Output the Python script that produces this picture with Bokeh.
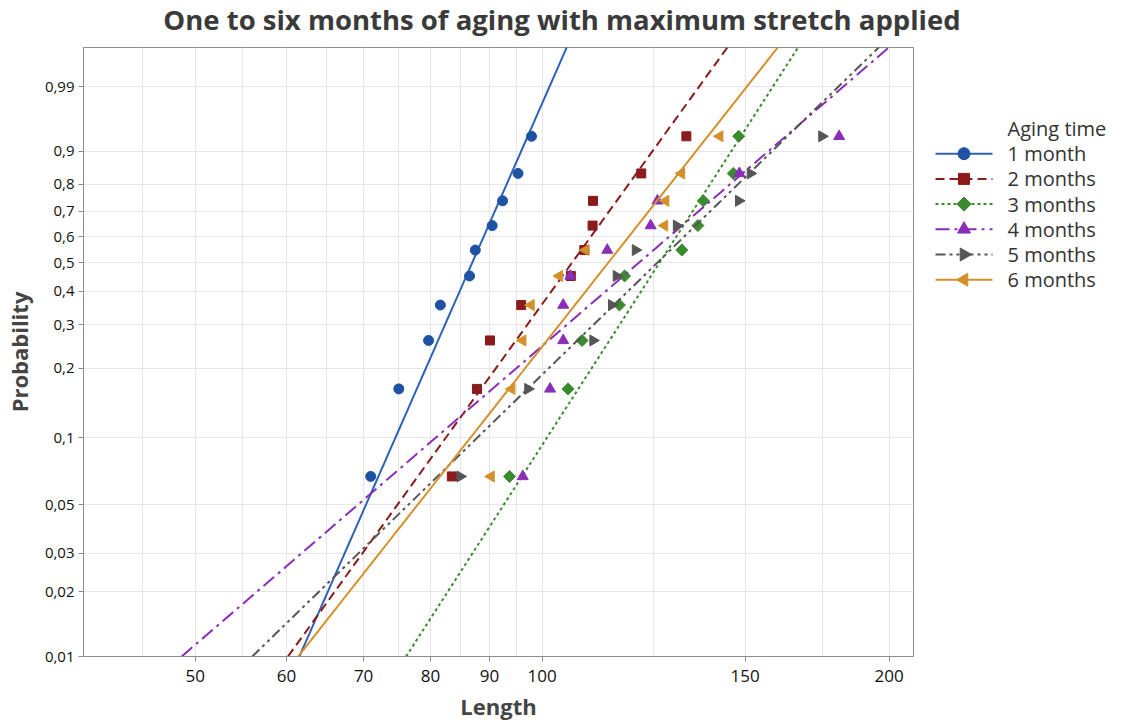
import numpy as np
from bokeh.plotting import figure
from bokeh.layouts import row, column
from bokeh.models import (FixedTicker, Range1d, BasicTickFormatter)
from bokeh.core.properties import value
from bokeh.embed import file_html
from bokeh.resources import INLINE

# ---------------- data ----------------
title_text = "One to six months of aging with maximum stretch applied"
series = ["1 month", "2 months", "3 months", "4 months", "5 months", "6 months"]
legend_title = "Aging time"
prob = [0.0673, 0.1635, 0.2596, 0.3558, 0.4519, 0.5481, 0.6442, 0.7404, 0.8365, 0.9327]
len_1 = [71.0, 75.1, 79.7, 81.6, 86.5, 87.5, 90.5, 92.4, 95.3, 97.9]
len_2 = [83.5, 87.8, 90.1, 95.9, 105.9, 108.8, 110.6, 110.7, 121.9, 133.4]
len_3 = [93.7, 105.3, 108.3, 116.7, 117.9, 132.2, 136.5, 138.0, 146.5, 148.1]
len_4 = [96.2, 101.6, 104.3, 104.3, 105.8, 113.9, 124.2, 125.9, 148.3, 181.0]
len_5 = [84.9, 97.2, 110.7, 114.9, 116.0, 120.5, 130.8, 148.1, 151.6, 174.9]
len_6 = [90.3, 94.1, 96.2, 97.8, 103.5, 109.1, 127.7, 128.0, 132.1, 142.6]
lengths = [len_1, len_2, len_3, len_4, len_5, len_6]
# fitted Weibull lines (shape, scale)
shape = [12.26, 7.46, 8.36, 4.635, 5.232, 6.835]
scale = [89.6, 111.5, 132.1, 131.3, 135.0, 120.4]

x_ticks = [50, 60, 70, 80, 90, 100, 150, 200]
x_grid = [45, 50, 55, 60, 65, 70, 75, 80, 85, 90, 95, 100, 125, 150, 175, 200]
y_ticks = [0.01, 0.02, 0.03, 0.05, 0.1, 0.2, 0.3, 0.4, 0.5, 0.6, 0.7, 0.8, 0.9, 0.99]
y_labels = ["0,01", "0,02", "0,03", "0,05", "0,1", "0,2", "0,3", "0,4", "0,5", "0,6", "0,7", "0,8", "0,9", "0,99"]

# ---------------- style ----------------
colors = ["#1F52A3", "#8B1A1A", "#3A8A2E", "#8A2DB8", "#555555", "#D3912C"]
line_colors = ["#2E62B6", "#8B1A1A", "#3A8A2E", "#8A2DB8", "#555555", "#D3912C"]
dashes = ["solid", "9 5", "3 3", "14 5 3 5", "10 4 3 4 3 4", "solid"]
markers = ["circle", "square", "square", "triangle", "triangle", "triangle"]
angles = [0, 0, np.pi / 4, 0, -np.pi / 2, np.pi / 2]
sizes = [10, 9, 8.5, 11, 11, 11]
leg_sizes = [12, 11, 10, 13, 13, 13]
FONT = "Open Sans"
TOP, BOTTOM = 47, 71          # title band height, space below the frame
PW, LW, H = 915, 208, 727     # plot width, legend width, total height


def wq(p):
    p = np.asarray(p, dtype=float)
    return np.log(-np.log(1.0 - p))


def blank_fig(w, h, xr, yr, bottom=0):
    f = figure(width=w, height=h, x_range=xr, y_range=yr, output_backend="svg",
               toolbar_location=None, x_axis_location=None, y_axis_location=None,
               min_border_left=0, min_border_right=0, min_border_top=0, min_border_bottom=bottom)
    f.xgrid.visible = False
    f.ygrid.visible = False
    f.outline_line_color = None
    f.background_fill_color = "white"
    f.border_fill_color = "white"
    return f


# ---------------- title band ----------------
tf = blank_fig(PW + LW, TOP, Range1d(0, PW + LW), Range1d(TOP, 0))
tf.text(x=[(PW + LW) / 2], y=[19], text=[title_text], text_font=value(FONT), text_font_size="27.5px",
        text_font_style="bold", text_color="#3a3a3a", text_align="center", text_baseline="middle")

# ---------------- main plot ----------------
p = figure(width=PW, height=H - TOP, x_axis_type="log",
           x_range=Range1d(40, 210), y_range=Range1d(float(wq(0.01)), float(wq(0.9991))),
           output_backend="svg", toolbar_location=None,
           min_border_left=82, min_border_right=2, min_border_top=0, min_border_bottom=BOTTOM)
p.title = None

yt = [float(v) for v in wq(y_ticks)]
p.yaxis.ticker = FixedTicker(ticks=yt, minor_ticks=[])
p.yaxis.major_label_overrides = {v: lab for v, lab in zip(yt, y_labels)}
p.xaxis.ticker = FixedTicker(ticks=x_ticks, minor_ticks=[])
p.xaxis.formatter = BasicTickFormatter()
p.xaxis.major_label_overrides = {v: str(v) for v in x_ticks}
p.xgrid.ticker = FixedTicker(ticks=x_grid, minor_ticks=[])
p.ygrid.ticker = FixedTicker(ticks=yt, minor_ticks=[])

for ax in (p.xaxis[0], p.yaxis[0]):
    ax.axis_line_color = "#8c8c8c"
    ax.major_tick_line_color = "#8c8c8c"
    ax.major_tick_out = 5
    ax.major_tick_in = 0
    ax.minor_tick_line_color = None
    ax.major_label_text_font = FONT
    ax.major_label_text_color = "#111111"
    ax.axis_label_text_font = FONT
    ax.axis_label_text_font_style = "bold"
    ax.axis_label_text_color = "#454545"
    ax.axis_label_text_font_size = "22px"

p.xaxis.major_label_text_font_size = "17px"
p.yaxis.major_label_text_font_size = "15px"
p.xaxis.axis_label = "Length"
p.yaxis.axis_label = "Probability"
p.xaxis.major_label_standoff = 8
p.yaxis.major_label_standoff = 4
p.xaxis.axis_label_standoff = 6
p.yaxis.axis_label_standoff = 8

p.xgrid.grid_line_color = "#e6e6e6"
p.ygrid.grid_line_color = "#e6e6e6"
p.outline_line_color = "#8c8c8c"
p.background_fill_color = "white"
p.border_fill_color = "white"

w_line = np.linspace(float(wq(0.01)), 2.6, 60)
for i, name in enumerate(series):
    xl = scale[i] * np.exp(w_line / shape[i])
    p.line(x=xl, y=w_line, line_color=line_colors[i], line_width=2, line_dash=dashes[i])
    p.scatter(x=lengths[i], y=wq(prob), marker=markers[i], size=sizes[i], angle=angles[i],
              fill_color=colors[i], line_color=colors[i])

# ---------------- legend panel (page-pixel coordinates) ----------------
lg = blank_fig(LW, H - TOP, Range1d(0, LW), Range1d(H - BOTTOM, TOP), bottom=BOTTOM)

row_y0, row_dy = 128.0, 25.2
glyph_x0, glyph_x1, text_x = 20.0, 77.0, 92.0
lg.text(x=[text_x], y=[row_y0], text=[legend_title], text_font=value(FONT), text_font_size="20px",
        text_color="#333333", text_baseline="middle", text_align="left")
for i, name in enumerate(series):
    yy = row_y0 + row_dy * (i + 1)
    lg.line(x=[glyph_x0, glyph_x1], y=[yy, yy], line_color=line_colors[i], line_width=2,
            line_dash=dashes[i])
    lg.scatter(x=[(glyph_x0 + glyph_x1) / 2], y=[yy], marker=markers[i], size=leg_sizes[i],
               angle=angles[i], fill_color=colors[i], line_color=colors[i])
    lg.text(x=[text_x], y=[yy], text=[name], text_font=value(FONT), text_font_size="20px",
            text_color="#333333", text_baseline="middle", text_align="left")

layout = column(tf, row(p, lg, spacing=0), spacing=0)
open("out.html", "w").write(file_html(layout, INLINE))
